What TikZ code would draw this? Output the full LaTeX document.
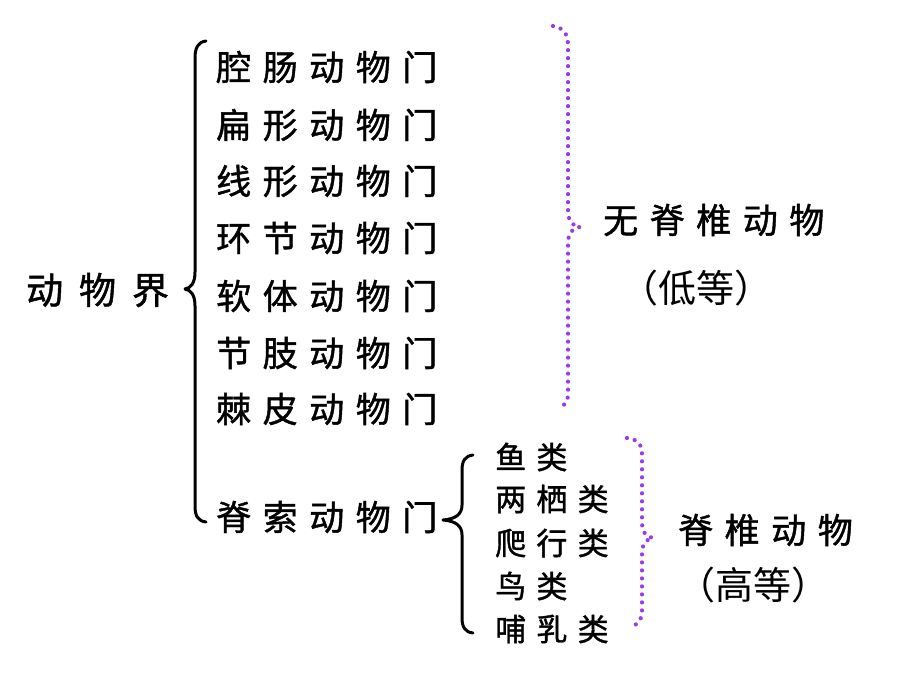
\documentclass[tikz,border=0pt]{standalone}
\usepackage{fontspec}
\newfontfamily\cjk{Noto Sans CJK SC}
\newfontfamily\cjkw[LetterSpace=33,FakeBold=1.2]{Noto Sans CJK SC}
\newfontfamily\cjkww[LetterSpace=43,FakeBold=1.2]{Noto Sans CJK SC}
\definecolor{dotpurple}{HTML}{9A3CE6}
\begin{document}
\begin{tikzpicture}[x=1pt,y=-1pt,
  item/.style={anchor=west,inner sep=0pt,font=\fontsize{35}{40}\selectfont\cjkw},
  subitem/.style={anchor=west,inner sep=0pt,font=\fontsize{31}{36}\selectfont\cjkw},
  title/.style={anchor=west,inner sep=0pt,font=\fontsize{37}{42}\selectfont\cjkww},
  paren/.style={inner sep=0pt,font=\fontsize{38}{44}\selectfont\cjk},
  bracestroke/.style={draw=black,line width=3pt,line cap=round,line join=round},
  dotbrace/.style={draw=dotpurple,line width=4.2pt,line cap=round,dash pattern=on 0pt off 8pt}]
\useasboundingbox (0,0) rectangle (920,690);
\fill[white] (0,0) rectangle (920,690);

\node[title] (kingdom) at (26,290) {动物界};

\node[item] (p1) at (216,67) {腔肠动物门};
\node[item] (p2) at (216,125) {扁形动物门};
\node[item] (p3) at (216,181) {线形动物门};
\node[item] (p4) at (216,238) {环节动物门};
\node[item] (p5) at (216,296) {软体动物门};
\node[item] (p6) at (216,353) {节肢动物门};
\node[item] (p7) at (216,409) {棘皮动物门};
\node[item] (p8) at (216,517) {脊索动物门};

\node[subitem] (s1) at (495,457) {鱼类};
\node[subitem] (s2) at (495,499) {两栖类};
\node[subitem] (s3) at (495,543) {爬行类};
\node[subitem] (s4) at (495,586) {鸟类};
\node[subitem] (s5) at (495,629) {哺乳类};

\node[item] (inv) at (603,220) {无脊椎动物};
\node[paren] (invlow) at (696,288) {（低等）};
\node[item] (vert) at (678,530) {脊椎动物};
\node[paren] (verthigh) at (753,585) {（高等）};

% big black brace
\coordinate (bbtop) at (206,41);
\coordinate (bbtip) at (185,289);
\coordinate (bbbot) at (206,522);
\draw[bracestroke] (bbtop) .. controls (198,42) and (195,48) .. (195,58)
  -- (195,272) .. controls (195,283) and (191,288) .. (bbtip)
  .. controls (191,290) and (195,295) .. (195,306)
  -- (195,506) .. controls (195,516) and (198,521) .. (bbbot);

% small black brace
\coordinate (sbtop) at (473,455);
\coordinate (sbtip) at (443,520);
\coordinate (sbbot) at (473,633);
\draw[bracestroke] (sbtop) .. controls (465,456) and (462,461) .. (462,470)
  -- (462,505) .. controls (462,514) and (456,519) .. (sbtip)
  .. controls (456,521) and (462,526) .. (462,535)
  -- (462,618) .. controls (462,627) and (465,632) .. (sbbot);

% dotted purple brace (invertebrates)
\coordinate (d1top) at (553,26);
\coordinate (d1tip) at (580,227);
\coordinate (d1bot) at (559,408);
\draw[dotbrace] (d1top) .. controls (564,28) and (568,34) .. (568,46)
  -- (568,210) .. controls (568,221) and (572,226) .. (d1tip)
  .. controls (572,228) and (568,233) .. (568,244)
  -- (568,394) .. controls (568,402) and (564,406) .. (d1bot);

% dotted purple brace (vertebrates)
\coordinate (d2top) at (627,438);
\coordinate (d2tip) at (653,538);
\coordinate (d2bot) at (631,627);
\draw[dotbrace] (d2top) .. controls (637,439) and (642,444) .. (642,454)
  -- (642,522) .. controls (642,532) and (646,537) .. (d2tip)
  .. controls (646,539) and (642,544) .. (642,554)
  -- (642,612) .. controls (642,620) and (637,625) .. (d2bot);
\end{tikzpicture}
\end{document}
